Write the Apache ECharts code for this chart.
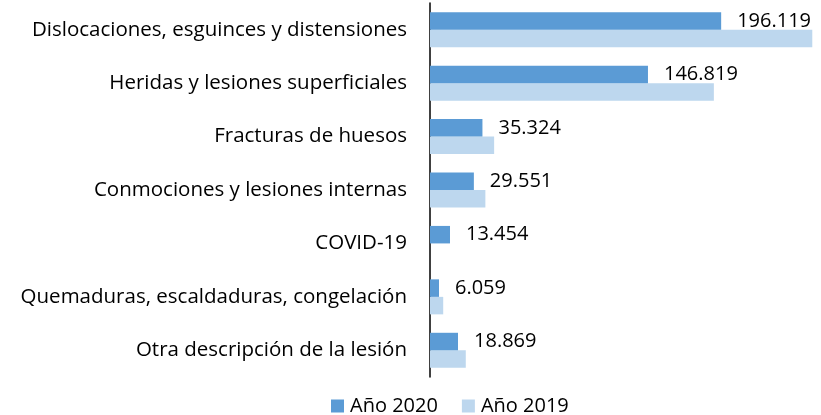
<!DOCTYPE html>
<html lang="es">
<head>
    <meta charset="UTF-8">
    <title>Lesiones</title>
    <script src="https://cdn.jsdelivr.net/npm/echarts@6/dist/echarts.min.js"></script>
    <style>
        html, body { margin: 0; padding: 0; background: #fff; }
        #chart { width: 821px; height: 415px; }
    </style>
</head>
<body>
    <div id="chart"></div>
    <script type="text/javascript">
        var categorias = ['Dislocaciones, esguinces y distensiones', 'Heridas y lesiones superficiales',
            'Fracturas de huesos', 'Conmociones y lesiones internas', 'COVID-19',
            'Quemaduras, escaldaduras, congelación', 'Otra descripción de la lesión'];
        var anio2020 = [196119, 146819, 35324, 29551, 13454, 6059, 18869];
        var anio2019 = [257500, 191200, 43200, 37300, 0, 8900, 24100];

        // separador de miles con punto
        function miles(v) {
            return String(v).replace(/\B(?=(\d{3})+(?!\d))/g, '.');
        }

        var myChart = echarts.init(document.getElementById('chart'));
        var fuente = 'Open Sans';

        var option = {
            animation: false,
            textStyle: { fontFamily: fuente },
            grid: { left: 430, right: 5, top: 3, bottom: 38 },
            legend: {
                data: ['Año 2020', 'Año 2019'],
                left: 326,
                top: 391,
                icon: 'rect',
                itemWidth: 13,
                itemHeight: 13,
                itemGap: 24,
                textStyle: { fontSize: 20, color: '#000', fontFamily: fuente, padding: [0, 0, 0, 1] }
            },
            xAxis: {
                type: 'value',
                min: 0,
                max: 260000,
                show: false
            },
            yAxis: {
                type: 'category',
                data: categorias,
                inverse: true,
                axisTick: { show: false },
                axisLine: { lineStyle: { color: '#000', width: 1.5 } },
                axisLabel: { margin: 23, fontSize: 20.5, color: '#000', fontFamily: fuente }
            },
            series: [
                {
                    name: 'Año 2020',
                    type: 'bar',
                    data: anio2020,
                    barWidth: 17.5,
                    barGap: '0%',
                    itemStyle: { color: '#5B9BD5' },
                    label: {
                        show: true,
                        position: 'right',
                        distance: 16,
                        fontSize: 20,
                        color: '#000',
                        fontFamily: fuente,
                        formatter: function (p) { return miles(p.value); }
                    },
                    z: 3
                },
                {
                    name: 'Año 2019',
                    type: 'bar',
                    data: anio2019,
                    barWidth: 17.5,
                    itemStyle: { color: '#BDD7EE' },
                    z: 2
                }
            ]
        };
        myChart.setOption(option, true);
    </script>
</body>
</html>
